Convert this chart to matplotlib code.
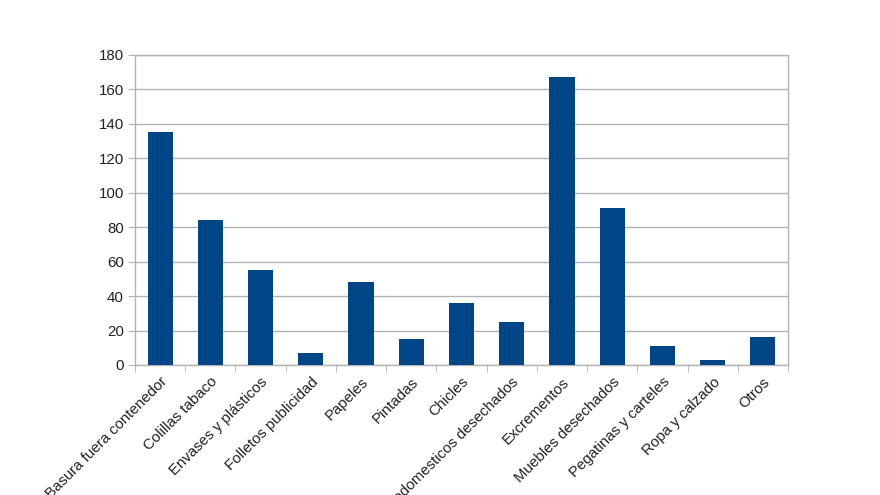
import matplotlib
matplotlib.use("Agg")
import matplotlib.pyplot as plt
import numpy as np

plt.rcParams['font.family'] = ['Liberation Sans', 'DejaVu Sans']

categorias = ["Basura fuera contenedor", "Colillas tabaco", "Envases y plásticos",
              "Folletos publicidad", "Papeles", "Pintadas", "Chicles",
              "Electrodomesticos desechados", "Excrementos", "Muebles desechados",
              "Pegatinas y carteles", "Ropa y calzado", "Otros"]
valores = [135, 84, 55, 7, 48, 15, 36, 25, 167, 91, 11, 3, 16]
yticks = [0, 20, 40, 60, 80, 100, 120, 140, 160, 180]

GRIS = "#b3b3b3"

fig = plt.figure(figsize=(8.8, 4.95), dpi=100)
ax = fig.add_axes([135 / 880, 1 - 365 / 495, (788 - 135) / 880, (365 - 55) / 495])

x = np.arange(len(categorias))
ax.bar(x, valores, width=0.5, color="#004586", zorder=3)

ax.set_xlim(-0.5, len(categorias) - 0.5)
ax.set_ylim(0, 180)
ax.set_yticks(yticks)
ax.yaxis.grid(True, color=GRIS, linewidth=1, zorder=0)

ax.set_xticks(x)
ax.set_xticklabels(categorias, rotation=45, ha="right", rotation_mode="anchor",
                   fontsize=10.8, color="#222222")
ax.set_xticks(np.arange(-0.5, len(categorias)), minor=True)
ax.tick_params(axis="x", which="major", length=0, pad=7)
ax.tick_params(axis="x", which="minor", length=5, color=GRIS)
ax.tick_params(axis="y", length=5, color=GRIS, labelsize=10.8, labelcolor="#222222", pad=3)

for s in ax.spines.values():
    s.set_color(GRIS)
    s.set_linewidth(1)

fig.savefig("out.png", dpi=100)
